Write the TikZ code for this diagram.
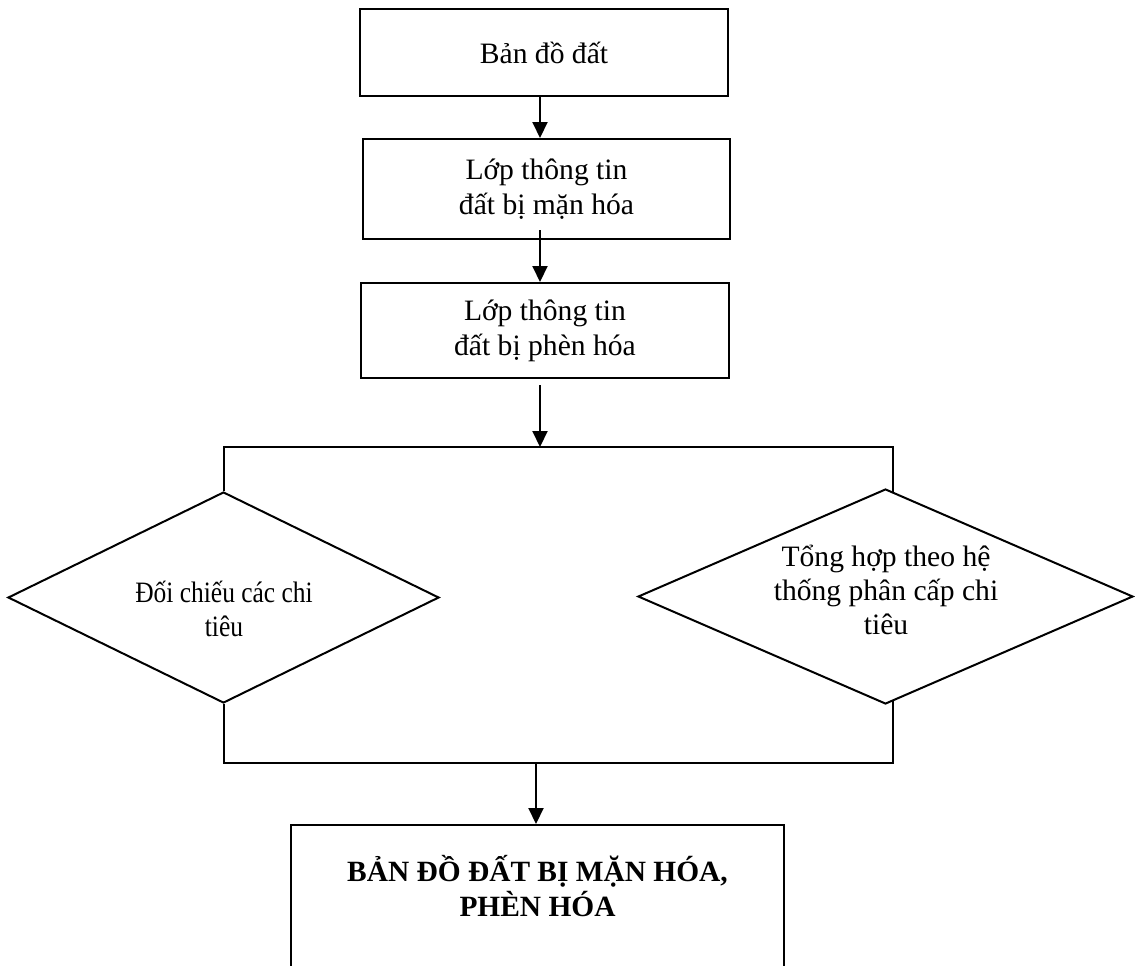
\documentclass[tikz,border=0pt]{standalone}
\usepackage{fontspec}
\setmainfont{Liberation Serif}
\usetikzlibrary{arrows.meta,shapes.geometric,calc}
\begin{document}
\begin{tikzpicture}[x=0.5pt,y=-0.5pt,
  stepbox/.style={draw,line width=1pt,rectangle,inner sep=0pt,align=center,font=\fontsize{14.8}{17.5}\selectfont},
  dbox/.style={draw,line width=1pt,diamond,inner sep=0pt},
  txt/.style={align=center,inner sep=0pt,font=\fontsize{14.8}{17.2}\selectfont},
  fintxt/.style={align=center,inner sep=0pt,font=\fontsize{14.7}{17.5}\selectfont\bfseries},
  arr/.style={line width=1pt,-{Triangle[length=8pt,width=7.5pt]}},
  ln/.style={line width=1pt}]
\useasboundingbox (0,0) rectangle (1135,965);
\clip (0,0) rectangle (1135,965);

\coordinate (ax) at (540,0);
\coordinate (topy) at (0,447);
\coordinate (boty) at (0,762.5);
\coordinate (trd) at (893,492);
\coordinate (brd) at (893,701);
\coordinate (fx) at (536,762.5);

\node[stepbox,minimum width=184pt,minimum height=43.5pt] (b1) at (544,52.5) {Bản đồ đất};
\node[stepbox,minimum width=183.5pt,minimum height=50pt] (b2) at (546.5,189) {Lớp thông tin\\đất bị mặn hóa};
\node[stepbox,minimum width=184pt,minimum height=47.5pt] (b3) at (545,330.5) {Lớp thông tin\\đất bị phèn hóa};

\node[dbox,minimum width=215.5pt,minimum height=105.5pt] (d1) at (223.5,597.5) {};
\node[dbox,minimum width=247.5pt,minimum height=107.5pt] (d2) at (885.5,596.5) {};
\node[txt] (t1) at (224,609) {\scalebox{0.86}[1]{Đối chiếu các chi}\\\scalebox{0.86}[1]{tiêu}};
\node[txt] (t2) at (886,590) {Tổng hợp theo hệ\\thống phân cấp chi\\tiêu};

\node[draw,line width=1pt,rectangle,inner sep=0pt,minimum width=246.5pt,minimum height=87.5pt] (fin) at (537.5,912.5) {};
\node[fintxt] (ft) at (537.5,886.5) {BẢN ĐỒ ĐẤT BỊ MẶN HÓA,\\PHÈN HÓA};

\draw[arr] (b1.south -| ax) -- (b2.north -| ax);
\draw[arr] ($(b2.south -| ax)+(0,-10)$) -- (b3.north -| ax);
\draw[arr] ($(b3.south -| ax)+(0,6)$) -- (ax |- topy);

\draw[ln] (d1.north) -- (d1.north |- topy) -- (trd |- topy) -- (trd);
\draw[ln] (d1.south) -- (d1.south |- boty) -- (brd |- boty) -- (brd);
\draw[arr] (fx) -- (fin.north -| fx);
\end{tikzpicture}
\end{document}
